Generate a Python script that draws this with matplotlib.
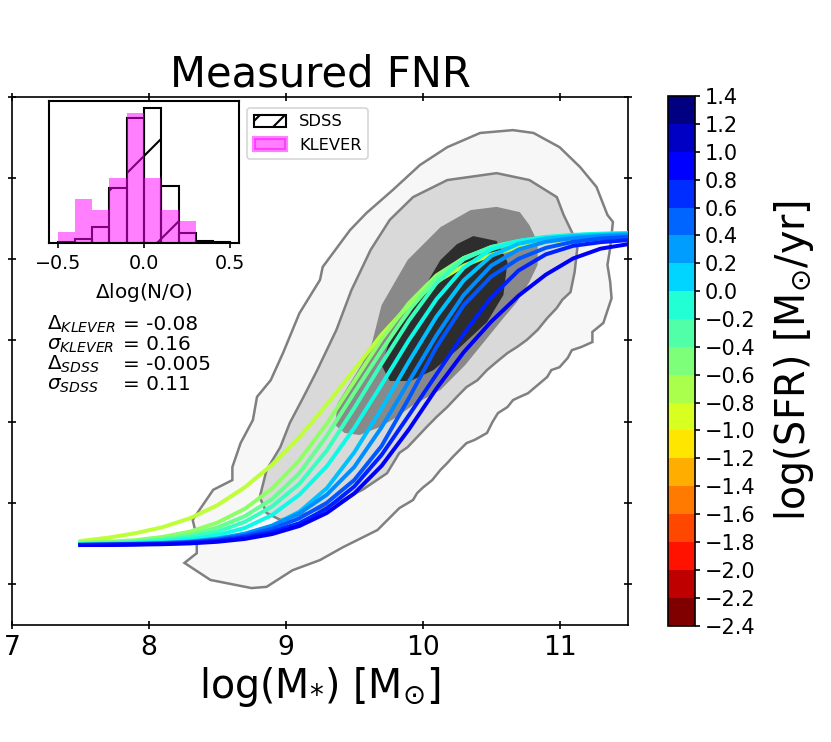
# Measured FNR: N/O vs stellar mass, SDSS density contours + FNR curves by SFR

import matplotlib
matplotlib.use('Agg')
import matplotlib.pyplot as plt
from matplotlib.colors import BoundaryNorm, Normalize
from matplotlib.patches import Patch
import matplotlib.cm as cm

# ---- data ----
mass_ticks = [7, 8, 9, 10, 11]
no_ticks = [-1.6, -1.4, -1.2, -1.0, -0.8, -0.6, -0.4]
sfr_ticks = [-2.4, -2.2, -2.0, -1.8, -1.6, -1.4, -1.2, -1.0, -0.8, -0.6, -0.4,
             -0.2, 0.0, 0.2, 0.4, 0.6, 0.8, 1.0, 1.2, 1.4]

# SDSS density contours (outer -> inner)
outer_x = [8.26, 8.35, 8.35, 8.32, 8.47, 8.61, 8.61, 8.67, 8.76, 8.79, 8.89, 8.98, 9.10,
           9.25, 9.27, 9.47, 9.59, 9.78, 9.98, 10.18, 10.42, 10.66, 10.81, 11.00, 11.15,
           11.27, 11.35, 11.39, 11.38, 11.37, 11.35, 11.37, 11.38, 11.32, 11.24, 11.24,
           11.16, 11.09, 11.06, 11.00, 10.94, 10.91, 10.84, 10.77, 10.71, 10.66, 10.62,
           10.55, 10.51, 10.47, 10.38, 10.32, 10.27, 10.22, 10.18, 10.13, 10.07, 10.00,
           9.96, 9.93, 9.87, 9.83, 9.67, 9.42, 9.25, 9.05, 8.86, 8.75, 8.45]
outer_y = [-1.548, -1.524, -1.484, -1.442, -1.368, -1.344, -1.312, -1.253, -1.196, -1.139,
           -1.098, -1.031, -0.933, -0.851, -0.819, -0.728, -0.686, -0.630, -0.568, -0.524,
           -0.489, -0.482, -0.489, -0.524, -0.573, -0.622, -0.691, -0.708, -0.740, -0.772,
           -0.814, -0.856, -0.896, -0.957, -0.979, -1.004, -1.016, -1.024, -1.043, -1.066,
           -1.073, -1.090, -1.110, -1.130, -1.139, -1.147, -1.164, -1.179, -1.201, -1.228,
           -1.245, -1.253, -1.270, -1.287, -1.302, -1.319, -1.344, -1.363, -1.376, -1.393,
           -1.405, -1.413, -1.467, -1.509, -1.541, -1.566, -1.607, -1.610, -1.590]
mid_x = [8.86, 8.81, 8.86, 8.96, 9.03, 9.13, 9.23, 9.37, 9.48, 9.62, 9.76, 9.93, 10.18,
         10.54, 10.78, 10.98, 11.03, 11.09, 11.13, 11.11, 11.08, 11.02, 10.98, 10.91,
         10.84, 10.76, 10.69, 10.62, 10.54, 10.47, 10.40, 10.32, 10.25, 10.18, 10.10,
         10.03, 9.96, 9.89, 9.83, 9.74, 9.56, 9.37, 9.16, 8.96]
mid_y = [-1.425, -1.386, -1.319, -1.263, -1.203, -1.139, -1.073, -0.974, -0.876, -0.777,
         -0.703, -0.647, -0.605, -0.588, -0.605, -0.647, -0.691, -0.733, -0.772, -0.832,
         -0.881, -0.900, -0.920, -0.945, -0.974, -0.999, -1.016, -1.031, -1.053, -1.073,
         -1.098, -1.115, -1.139, -1.164, -1.189, -1.213, -1.238, -1.263, -1.277, -1.327,
         -1.368, -1.400, -1.425, -1.442]
core_x = [9.36, 9.38, 9.47, 9.56, 9.63, 9.70, 9.89, 10.13, 10.35, 10.54, 10.71, 10.78,
          10.84, 10.84, 10.78, 10.69, 10.59, 10.46, 10.31, 10.13, 9.93, 9.81, 9.69, 9.54,
          9.43]
core_y = [-1.208, -1.154, -1.105, -1.056, -1.006, -0.913, -0.802, -0.721, -0.679, -0.671,
          -0.684, -0.716, -0.758, -0.814, -0.856, -0.905, -0.945, -0.999, -1.061, -1.122,
          -1.159, -1.189, -1.213, -1.233, -1.228]
peak_x = [10.37, 10.54, 10.62, 10.59, 10.47, 10.25, 10.08, 9.91, 9.76, 9.70, 9.76, 9.91,
          10.00, 10.13, 10.25]
peak_y = [-0.743, -0.755, -0.807, -0.888, -0.955, -1.024, -1.073, -1.100, -1.100, -1.061,
          -0.999, -0.933, -0.876, -0.802, -0.763]

# FNR curves: log(SFR) of each curve and log(N/O) read at each stellar mass
curve_sfr = [-0.8, -0.6, -0.4, -0.2, 0.0, 0.2, 0.4, 0.6, 0.8, 1.0]
curve_mass = [7.5, 7.7, 7.9, 8.1, 8.3, 8.5, 8.7, 8.9, 9.1, 9.3, 9.5, 9.7, 9.9, 10.1,
              10.3, 10.5, 10.7, 10.9, 11.1, 11.3, 11.5]
curve_no = [
    [-1.494, -1.486, -1.475, -1.460, -1.438, -1.406, -1.362, -1.306, -1.238, -1.158, -1.072,
     -0.986, -0.913, -0.856, -0.816, -0.789, -0.770, -0.758, -0.749, -0.742, -0.735],
    [-1.498, -1.496, -1.492, -1.484, -1.471, -1.449, -1.415, -1.365, -1.295, -1.205, -1.101,
     -0.997, -0.908, -0.840, -0.797, -0.772, -0.758, -0.749, -0.743, -0.739, -0.736],
    [-1.500, -1.498, -1.495, -1.489, -1.479, -1.461, -1.433, -1.391, -1.327, -1.235, -1.129,
     -1.025, -0.926, -0.847, -0.797, -0.770, -0.756, -0.747, -0.741, -0.738, -0.736],
    [-1.501, -1.500, -1.497, -1.492, -1.484, -1.471, -1.447, -1.409, -1.353, -1.271, -1.167,
     -1.057, -0.951, -0.859, -0.800, -0.770, -0.755, -0.746, -0.741, -0.738, -0.736],
    [-1.502, -1.501, -1.499, -1.496, -1.490, -1.480, -1.462, -1.430, -1.380, -1.310, -1.216,
     -1.109, -0.999, -0.899, -0.821, -0.776, -0.755, -0.745, -0.740, -0.737, -0.736],
    [-1.503, -1.502, -1.501, -1.499, -1.495, -1.488, -1.476, -1.456, -1.422, -1.364, -1.276,
     -1.168, -1.052, -0.942, -0.852, -0.792, -0.762, -0.749, -0.743, -0.740, -0.737],
    [-1.503, -1.502, -1.501, -1.499, -1.496, -1.489, -1.477, -1.457, -1.426, -1.380, -1.312,
     -1.214, -1.101, -0.988, -0.888, -0.816, -0.776, -0.757, -0.748, -0.743, -0.740],
    [-1.504, -1.503, -1.502, -1.500, -1.497, -1.491, -1.481, -1.464, -1.438, -1.400, -1.344,
     -1.260, -1.142, -1.017, -0.913, -0.843, -0.799, -0.772, -0.757, -0.749, -0.745],
    [-1.504, -1.503, -1.502, -1.501, -1.498, -1.493, -1.485, -1.472, -1.450, -1.414, -1.360,
     -1.282, -1.184, -1.084, -0.984, -0.894, -0.828, -0.788, -0.767, -0.758, -0.753],
    [-1.504, -1.504, -1.503, -1.502, -1.500, -1.496, -1.489, -1.477, -1.457, -1.425, -1.377,
     -1.309, -1.219, -1.119, -1.029, -0.954, -0.890, -0.838, -0.798, -0.774, -0.763],
]

# inset histogram of delta log(N/O) (density)
bin_left = [-0.5, -0.4, -0.3, -0.2, -0.1, 0.0, 0.1, 0.2, 0.3, 0.4]
sdss_dens = [0.02, 0.08, 0.40, 1.37, 3.10, 3.37, 1.42, 0.25, 0.04, 0.02]
klever_dens = [0.27, 1.08, 0.81, 1.62, 3.24, 1.62, 0.81, 0.54, 0.0, 0.0]

stat_names = [r'$\Delta_{KLEVER}$', r'$\sigma_{KLEVER}$', r'$\Delta_{SDSS}$', r'$\sigma_{SDSS}$']
stat_values = ['= -0.08', '= 0.16', '= -0.005', '= 0.11']

# ---- figure ----
DPI = 300
plt.rcParams['hatch.linewidth'] = 0.5
fig = plt.figure(figsize=(831 / DPI, 742 / DPI), dpi=DPI)
ax = fig.add_axes([0.0144, 0.1582, 0.7413, 0.7113])

edge_grey = '#808080'
ax.fill(outer_x, outer_y, facecolor='#f7f7f7', edgecolor=edge_grey, lw=0.6, zorder=1)
ax.fill(mid_x, mid_y, facecolor='#d9d9d9', edgecolor=edge_grey, lw=0.6, zorder=2)
ax.fill(core_x, core_y, facecolor='#898989', edgecolor='none', zorder=3)
ax.fill(peak_x, peak_y, facecolor='#2d2d2d', edgecolor='none', zorder=4)

cmap = plt.get_cmap('jet_r')
norm = Normalize(vmin=-2.4, vmax=1.4)
for sfr, no in zip(curve_sfr, curve_no):
    ax.plot(curve_mass, no, color=cmap(norm(sfr)), lw=0.95, zorder=5)

ax.set_xlim(7, 11.5)
ax.set_ylim(-1.7, -0.4)
ax.set_xticks(mass_ticks)
ax.set_yticks(no_ticks)
ax.set_yticklabels([])
ax.tick_params(direction='inout', top=True, right=True, length=2, width=0.4,
               labelsize=6.4, pad=1.5)
for s in ax.spines.values():
    s.set_linewidth(0.4)
ax.set_title('Measured FNR', fontsize=10, pad=2.5)
ax.set_xlabel(r'log(M$_{*}$) [M$_{\odot}$]', fontsize=9.5, labelpad=1)

# colorbar
cax = fig.add_axes([0.8039, 0.157, 0.0325, 0.7135])
sm = cm.ScalarMappable(norm=BoundaryNorm(sfr_ticks, 256), cmap=cmap)
cb = fig.colorbar(sm, cax=cax, ticks=sfr_ticks)
cb.ax.tick_params(labelsize=5, length=1.3, width=0.4, pad=1)
cb.outline.set_linewidth(0.4)
cb.set_label(r'log(SFR) [M$_{\odot}$/yr]', fontsize=9.5, labelpad=4)

# inset histogram
axin = fig.add_axes([0.059, 0.6729, 0.2286, 0.1914])
axin.bar(bin_left, sdss_dens, width=0.1, align='edge', fill=False, hatch='/',
         edgecolor='black', lw=0.5)
axin.bar(bin_left, klever_dens, width=0.1, align='edge', color='magenta', alpha=0.5, lw=0)
axin.set_xlim(-0.55, 0.55)
axin.set_ylim(0, 3.54)
axin.set_yticks([])
axin.set_xticks([-0.5, 0.0, 0.5])
axin.tick_params(labelsize=4.6, length=1.2, width=0.4, pad=1.5)
for s in axin.spines.values():
    s.set_linewidth(0.5)
axin.set_xlabel(r'$\Delta$log(N/O)', fontsize=4.8, labelpad=2)

handles = [Patch(facecolor='none', edgecolor='black', hatch='////', lw=0.5, label='SDSS'),
           Patch(facecolor='magenta', edgecolor='magenta', alpha=0.5, label='KLEVER')]
leg = fig.legend(handles=handles, loc='upper left', bbox_to_anchor=(247 / 831, 1 - 108 / 742),
                 fontsize=3.9, borderaxespad=0)
leg.get_frame().set_linewidth(0.4)

for i, (name, val) in enumerate(zip(stat_names, stat_values)):
    yb = 1 - (330 + 20 * i) / 742
    fig.text(47 / 831, yb, name, fontsize=4.8, va='baseline')
    fig.text(123 / 831, yb, val, fontsize=4.8, va='baseline')

fig.savefig('out.png', dpi=DPI)
